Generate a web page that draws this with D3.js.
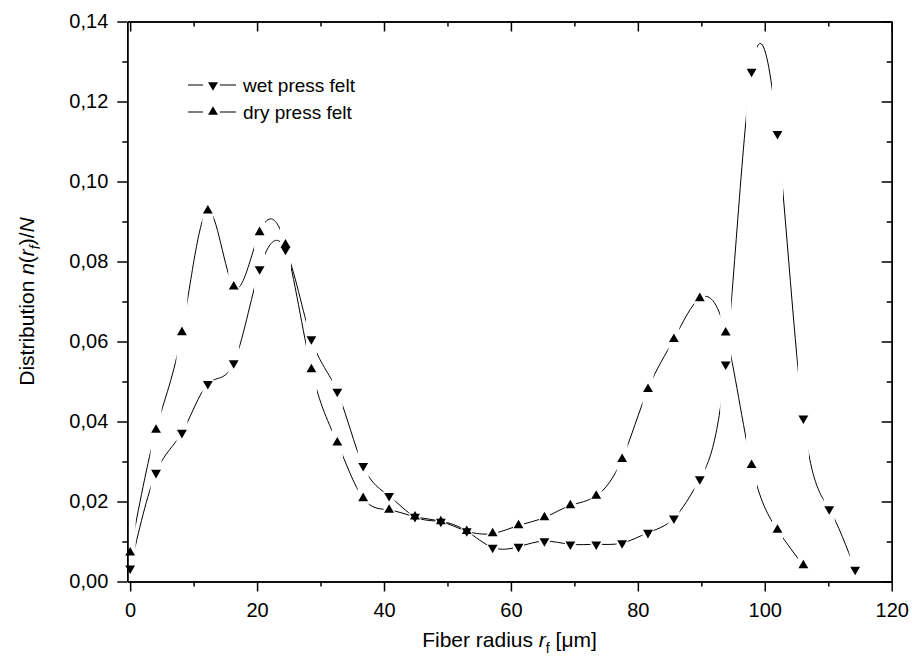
<!DOCTYPE html>
<html>
<head>
<meta charset="utf-8">
<script src="https://cdn.jsdelivr.net/npm/d3@7"></script>
<style>
  body { margin: 0; background: #fff; }
  text { font-family: Arial, "Liberation Sans", sans-serif; fill: #000; }
</style>
</head>
<body>
<svg id="chart" width="912" height="659"></svg>
<script>
// fiber radius (µm) of each class
const radius = [0, 4.08, 8.16, 12.24, 16.32, 20.4, 24.48, 28.56, 32.64, 36.72, 40.8,
  44.88, 48.96, 53.04, 57.12, 61.2, 65.28, 69.36, 73.44, 77.52, 81.6, 85.68, 89.76,
  93.84, 97.92, 102.0, 106.08, 110.16, 114.24];

const wetFelt = [0.0033, 0.0272, 0.0372, 0.0494, 0.0546, 0.0781, 0.0830, 0.0606, 0.0475,
  0.0289, 0.0214, 0.0162, 0.0150, 0.0126, 0.0085, 0.0087, 0.0101, 0.0093, 0.0093, 0.0096,
  0.0122, 0.0158, 0.0256, 0.0543, 0.1275, 0.1119, 0.0408, 0.0181, 0.0030];

const dryFelt = [0.0072, 0.0379, 0.0623, 0.0927, 0.0737, 0.0873, 0.0842, 0.0530, 0.0347,
  0.0208, 0.0179, 0.0162, 0.0150, 0.0126, 0.0120, 0.0140, 0.0160, 0.0190, 0.0214, 0.0306,
  0.0481, 0.0606, 0.0708, 0.0622, 0.0291, 0.0129, 0.0040];

const seriesNames = ["wet press felt", "dry press felt"];
const xMajor = [0, 20, 40, 60, 80, 100, 120];
const xMinor = [10, 30, 50, 70, 90, 110];
const yMajor = [0, 0.02, 0.04, 0.06, 0.08, 0.10, 0.12, 0.14];
const yMinor = [0.01, 0.03, 0.05, 0.07, 0.09, 0.11, 0.13];

const svg = d3.select("#chart");

const x = d3.scaleLinear().domain([-0.45, 120]).range([127.3, 891.7]);
const y = d3.scaleLinear().domain([0, 0.14]).range([581.5, 21.5]);

const comma = d3.formatLocale({decimal: ",", thousands: ".", grouping: [3], currency: ["", ""]});
const yFmt = comma.format(".2f");

// axes
function styleAxis(g) {
  g.selectAll("path, line").attr("stroke", "#000").attr("stroke-width", 1.5);
  g.selectAll("text").style("font-size", "20px").attr("fill", "#000");
}

svg.append("g").attr("transform", `translate(0,${y.range()[0]})`)
  .call(d3.axisBottom(x).tickValues(xMajor).tickSize(10).tickSizeOuter(0).tickPadding(11).tickFormat(d3.format("d")))
  .call(styleAxis);
svg.append("g").attr("transform", `translate(0,${y.range()[0]})`)
  .call(d3.axisBottom(x).tickValues(xMinor).tickSize(5).tickSizeOuter(0).tickFormat(""))
  .call(styleAxis);

svg.append("g").attr("transform", `translate(0,${y.range()[1]})`)
  .call(d3.axisTop(x).tickValues(xMajor).tickSize(-10).tickSizeOuter(0).tickFormat(""))
  .call(styleAxis);
svg.append("g").attr("transform", `translate(0,${y.range()[1]})`)
  .call(d3.axisTop(x).tickValues(xMinor).tickSize(-5).tickSizeOuter(0).tickFormat(""))
  .call(styleAxis);

svg.append("g").attr("transform", `translate(${x.range()[0]},0)`)
  .call(d3.axisLeft(y).tickValues(yMajor).tickSize(10).tickSizeOuter(0).tickPadding(9).tickFormat(yFmt))
  .call(styleAxis);
svg.append("g").attr("transform", `translate(${x.range()[0]},0)`)
  .call(d3.axisLeft(y).tickValues(yMinor).tickSize(5).tickSizeOuter(0).tickFormat(""))
  .call(styleAxis);

svg.append("g").attr("transform", `translate(${x.range()[1]},0)`)
  .call(d3.axisRight(y).tickValues(yMajor).tickSize(-10).tickSizeOuter(0).tickFormat(""))
  .call(styleAxis);
svg.append("g").attr("transform", `translate(${x.range()[1]},0)`)
  .call(d3.axisRight(y).tickValues(yMinor).tickSize(-5).tickSizeOuter(0).tickFormat(""))
  .call(styleAxis);

// gaps in the lines around every symbol
const gap = 5.5;
const clip = svg.append("clipPath").attr("id", "gaps");
clip.selectAll("rect")
  .data(d3.pairs(radius))
  .join("rect")
  .attr("x", d => x(d[0]) + gap)
  .attr("width", d => x(d[1]) - x(d[0]) - 2 * gap)
  .attr("y", 0)
  .attr("height", 659);

const line = d3.line()
  .x((d, i) => x(radius[i]))
  .y(d => y(d))
  .curve(d3.curveNatural);

const series = [
  {name: seriesNames[0], values: wetFelt, rot: 180},
  {name: seriesNames[1], values: dryFelt, rot: 0}
];

const tri = d3.symbol(d3.symbolTriangle, 42);

series.forEach(s => {
  svg.append("path")
    .attr("d", line(s.values))
    .attr("fill", "none")
    .attr("stroke", "#000")
    .attr("stroke-width", 1)
    .attr("clip-path", "url(#gaps)");
});

series.forEach(s => {
  svg.append("g").selectAll("path")
    .data(s.values)
    .join("path")
    .attr("d", tri)
    .attr("transform", (d, i) => `translate(${x(radius[i])},${y(d)}) rotate(${s.rot})`)
    .attr("fill", "#000");
});

// legend
const legend = svg.append("g").attr("transform", "translate(188,85)");
const item = legend.selectAll("g")
  .data(series)
  .join("g")
  .attr("transform", (d, i) => `translate(0,${i * 27})`);
item.append("line").attr("x1", 0).attr("x2", 15).attr("stroke", "#000");
item.append("line").attr("x1", 32).attr("x2", 48).attr("stroke", "#000");
item.append("path").attr("d", tri).attr("transform", d => `translate(25,0) rotate(${d.rot})`);
item.append("text")
  .attr("x", 55)
  .attr("dy", "0.35em")
  .style("font-size", "19px")
  .text(d => d.name);

// axis titles
const xt = svg.append("text")
  .attr("x", (x.range()[0] + x.range()[1]) / 2)
  .attr("y", 647)
  .attr("text-anchor", "middle")
  .style("font-size", "21px");
xt.append("tspan").text("Fiber radius ");
xt.append("tspan").style("font-style", "italic").text("r");
xt.append("tspan").attr("dy", 6).style("font-size", "14px").text("f");
xt.append("tspan").attr("dy", -6).text(" [\u03bcm]");

const yt = svg.append("text")
  .attr("transform", `translate(34,${(y.range()[0] + y.range()[1]) / 2}) rotate(-90)`)
  .attr("text-anchor", "middle")
  .style("font-size", "21px");
yt.append("tspan").text("Distribution ");
yt.append("tspan").style("font-style", "italic").text("n");
yt.append("tspan").text("(");
yt.append("tspan").style("font-style", "italic").text("r");
yt.append("tspan").attr("dy", 6).style("font-size", "14px").style("font-style", "italic").text("f");
yt.append("tspan").attr("dy", -6).text(")/");
yt.append("tspan").style("font-style", "italic").text("N");
</script>
</body>
</html>
